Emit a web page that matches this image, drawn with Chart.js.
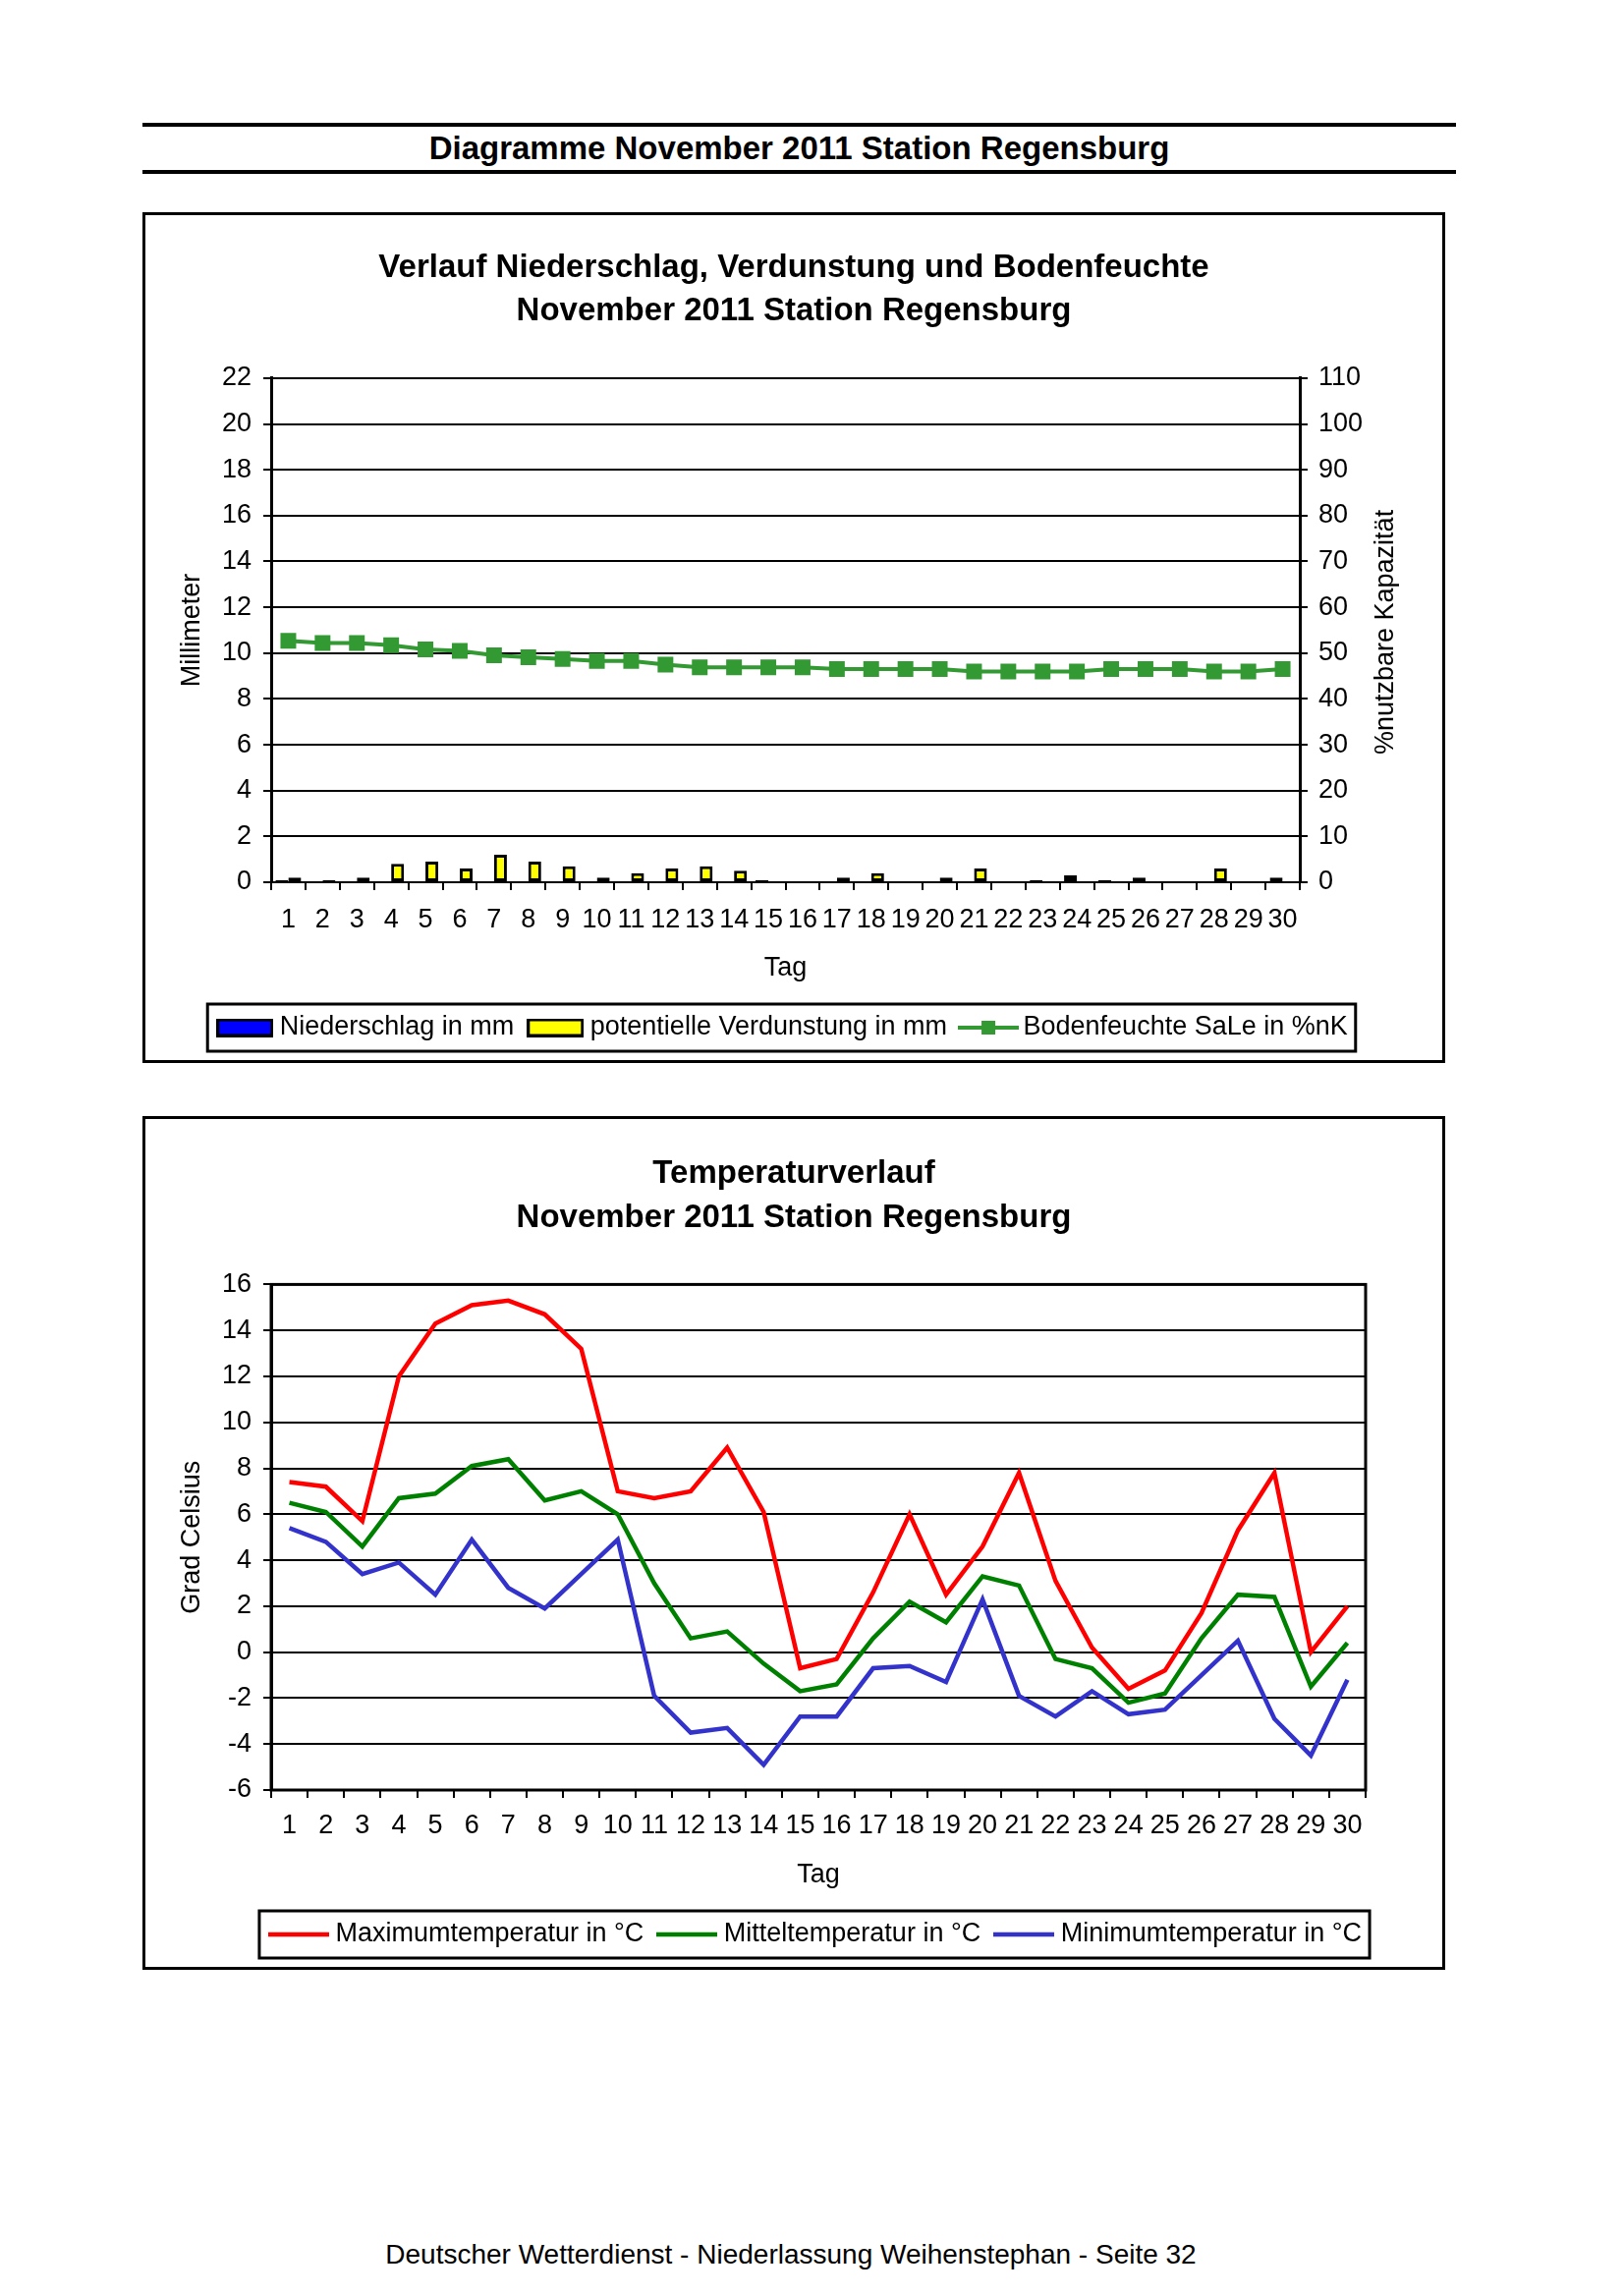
<!DOCTYPE html>
<html lang="de">
<head>
<meta charset="utf-8">
<title>Diagramme November 2011 Station Regensburg</title>
<script src="https://cdn.jsdelivr.net/npm/chart.js@4.4.1/dist/chart.umd.min.js"></script>
<style>
  html, body { margin: 0; padding: 0; background: #fff; }
  body { width: 1653px; height: 2337px; position: relative; font-family: "Liberation Sans", Arial, sans-serif; color: #000; }
  .rule { position: absolute; left: 145px; width: 1337px; height: 4px; background: #000; }
  #head { position: absolute; left: 145px; width: 1337px; top: 129px; height: 44px; line-height: 44px; text-align: center; font-weight: bold; font-size: 33px; }
  .box { position: absolute; left: 145px; width: 1320px; border: 3px solid #000; }
  .box canvas { display: block; }
  #foot { position: absolute; left: 145px; width: 1320px; top: 2279px; line-height: 32px; text-align: center; font-size: 28px; }
</style>
</head>
<body>
<div class="rule" style="top:125px"></div>
<div id="head">Diagramme November 2011 Station Regensburg</div>
<div class="rule" style="top:173px"></div>

<div class="box" style="top:216px;height:860px"><canvas id="wasser" width="1320" height="860"></canvas></div>
<div class="box" style="top:1136px;height:863px"><canvas id="temp" width="1320" height="863"></canvas></div>

<div id="foot">Deutscher Wetterdienst - Niederlassung Weihenstephan - Seite 32</div>

<script>
// Tage im November
const tage = ['1','2','3','4','5','6','7','8','9','10','11','12','13','14','15',
              '16','17','18','19','20','21','22','23','24','25','26','27','28','29','30'];

// oberes Diagramm (mm bzw. % nK)
const niederschlag = [0.1,0,0,0,0,0,0,0,0,0,0,0,0,0,0.1,0,0,0,0,0,0,0,0.1,0.3,0.1,0.2,0,0,0,0.2];
const verdunstung  = [0.2,0.1,0.2,0.8,0.9,0.6,1.2,0.9,0.7,0.2,0.4,0.6,0.7,0.5,0,0,0.2,0.4,0,0.2,0.6,0,0,0,0,0,0,0.6,0,0];
const bodenfeuchte = [52.7,52.2,52.2,51.7,50.8,50.5,49.5,49.1,48.7,48.3,48.3,47.5,46.9,46.9,46.9,
                      46.9,46.5,46.5,46.5,46.5,46.0,46.0,46.0,46.0,46.5,46.5,46.5,46.0,46.0,46.5];

// unteres Diagramm (Grad Celsius)
const maxTemp  = [7.4,7.2,5.7,12.0,14.3,15.1,15.3,14.7,13.2,7.0,6.7,7.0,8.9,6.1,-0.7,
                  -0.3,2.6,6.0,2.5,4.6,7.8,3.1,0.2,-1.6,-0.8,1.7,5.3,7.8,0.0,2.0];
const mitTemp  = [6.5,6.1,4.6,6.7,6.9,8.1,8.4,6.6,7.0,6.0,3.0,0.6,0.9,-0.5,-1.7,
                  -1.4,0.6,2.2,1.3,3.3,2.9,-0.3,-0.7,-2.2,-1.8,0.6,2.5,2.4,-1.5,0.4];
const minTemp  = [5.4,4.8,3.4,3.9,2.5,4.9,2.8,1.9,3.4,4.9,-1.9,-3.5,-3.3,-4.9,-2.8,
                  -2.8,-0.7,-0.6,-1.3,2.3,-1.9,-2.8,-1.7,-2.7,-2.5,-1.0,0.5,-2.9,-4.5,-1.2];

Chart.defaults.font.family = '"Liberation Sans", Arial, sans-serif';
Chart.defaults.font.size = 27;
Chart.defaults.color = '#000';

// kleine Legendensymbole
function swatch(w, h, draw) {
  const c = document.createElement('canvas');
  c.width = w; c.height = h;
  draw(c.getContext('2d'), w, h);
  return c;
}
const kasten = col => swatch(58, 19, (g, w, h) => {
  g.fillStyle = '#000'; g.fillRect(0, 0, w, h);
  g.fillStyle = col; g.fillRect(3, 3, w - 6, h - 6);
});
const linie = (col, lw, marker) => swatch(62, 16, (g, w, h) => {
  g.strokeStyle = col; g.lineWidth = lw;
  g.beginPath(); g.moveTo(0, h / 2); g.lineTo(w, h / 2); g.stroke();
  if (marker) { g.fillStyle = col; g.fillRect(w / 2 - 7, h / 2 - 7, 14, 14); }
});

function legendItems(chart) {
  return chart.data.datasets.map((ds, i) => ({
    text: ds.label, pointStyle: ds.swatch, datasetIndex: i,
    fillStyle: ds.borderColor, strokeStyle: ds.borderColor, lineWidth: 0, hidden: false
  }));
}

// Legende unter der Zeichenfläche mittig, mit Rahmen
const legendenRahmen = {
  id: 'legendenRahmen',
  beforeDraw(chart) {
    const lg = chart.legend, a = chart.chartArea;
    if (!lg) return;
    const w = lg.right - lg.left;
    const dx = (a.left + a.right) / 2 - w / 2 - lg.left;
    if (!dx) return;
    lg.left += dx;
    lg.right += dx;
    lg.legendHitBoxes.forEach(hb => { hb.left += dx; });
  },
  afterDraw(chart) {
    const lg = chart.legend;
    if (!lg || !lg.legendHitBoxes || !lg.legendHitBoxes.length) return;
    const sw = lg.options.labels.pointStyleWidth;
    let l = Infinity, r = -Infinity, mid = 0;
    lg.legendHitBoxes.forEach((hb, i) => {
      const img = lg.legendItems[i].pointStyle;
      l = Math.min(l, hb.left + sw / 2 - img.width / 2);
      r = Math.max(r, hb.left + hb.width);
      mid = hb.top + hb.height / 2;
    });
    const ctx = chart.ctx;
    ctx.save();
    ctx.strokeStyle = '#000'; ctx.lineWidth = 3;
    ctx.strokeRect(l - 9, mid - 24, r - l + 17, 48);
    ctx.restore();
  }
};

// rechte Achsenbeschriftung, von unten nach oben gelesen
const rechterTitel = {
  id: 'rechterTitel',
  afterDraw(chart) {
    const {ctx, chartArea: a} = chart;
    ctx.save();
    ctx.translate(a.right + 87.6, (a.top + a.bottom) / 2 + 2);
    ctx.rotate(-Math.PI / 2);
    ctx.font = '27px "Liberation Sans", Arial, sans-serif';
    ctx.fillStyle = '#000'; ctx.textAlign = 'center'; ctx.textBaseline = 'middle';
    ctx.fillText('%nutzbare Kapazität', 0, 0);
    ctx.restore();
  }
};

// Rahmen um die Zeichenfläche
const flaechenRahmen = {
  id: 'flaechenRahmen',
  afterDatasetsDraw(chart) {
    const {ctx, chartArea: a} = chart;
    ctx.save();
    ctx.strokeStyle = '#000'; ctx.lineWidth = 3;
    ctx.strokeRect(a.left, a.top, a.right - a.left, a.bottom - a.top);
    ctx.restore();
  }
};

const titelFont = { size: 33, weight: 'bold', lineHeight: 1.35 };
const gitter = { color: '#000', lineWidth: 2, tickLength: 8 };

new Chart(document.getElementById('wasser'), {
  type: 'bar',
  data: {
    labels: tage,
    datasets: [
      { label: 'Niederschlag in mm', data: niederschlag, yAxisID: 'y',
        backgroundColor: '#0000ff', borderColor: '#000', borderWidth: 3, borderSkipped: false,
        categoryPercentage: 0.75, barPercentage: 1.0, swatch: kasten('#0000ff') },
      { label: 'potentielle Verdunstung in mm', data: verdunstung, yAxisID: 'y',
        backgroundColor: '#ffff00', borderColor: '#000', borderWidth: 3, borderSkipped: false,
        categoryPercentage: 0.75, barPercentage: 1.0, swatch: kasten('#ffff00') },
      { type: 'line', label: 'Bodenfeuchte SaLe in %nK', data: bodenfeuchte, yAxisID: 'y1',
        borderColor: '#339933', backgroundColor: '#339933', borderWidth: 4,
        pointStyle: 'rect', pointRadius: 11.3, pointBorderWidth: 0, pointBackgroundColor: '#339933',
        swatch: linie('#339933', 4, true) }
    ]
  },
  options: {
    responsive: false, animation: false, devicePixelRatio: 1,
    layout: { padding: { bottom: 9.5 } },
    plugins: {
      tooltip: { enabled: false },
      title: {
        display: true, color: '#000', font: titelFont,
        text: ['Verlauf Niederschlag, Verdunstung und Bodenfeuchte', 'November 2011 Station Regensburg'],
        padding: { top: 31.5, bottom: 45.3 }
      },
      legend: {
        position: 'bottom',
        labels: { usePointStyle: true, pointStyleWidth: 44, boxHeight: 19, padding: 20,
                  color: '#000', generateLabels: legendItems }
      }
    },
    scales: {
      x: {
        grid: { ...gitter, offset: true, drawOnChartArea: false },
        border: { display: true, color: '#000', width: 2 },
        ticks: { autoSkip: false, maxRotation: 0, padding: 14 },
        title: { display: true, text: 'Tag', padding: { top: 0, bottom: 10.3 } },
        afterFit: s => { s.height = 114.5; }
      },
      y: {
        position: 'left', min: 0, max: 22,
        ticks: { stepSize: 2, padding: 12 },
        grid: gitter,
        border: { display: true, color: '#000', width: 3 },
        title: { display: true, text: 'Millimeter', padding: { top: 31, bottom: 0 } },
        afterFit: s => { s.width = 128; }
      },
      y1: {
        position: 'right', min: 0, max: 110,
        ticks: { stepSize: 10, padding: 11 },
        grid: { ...gitter, drawOnChartArea: false },
        border: { display: true, color: '#000', width: 3 },
        afterFit: s => { s.width = 145; }
      }
    }
  },
  plugins: [legendenRahmen, rechterTitel]
});

new Chart(document.getElementById('temp'), {
  type: 'line',
  data: {
    labels: tage,
    datasets: [
      { label: 'Maximumtemperatur in °C', data: maxTemp, borderColor: '#ff0000', backgroundColor: '#ff0000',
        borderWidth: 4.5, pointRadius: 0, tension: 0, swatch: linie('#ff0000', 4.5, false) },
      { label: 'Mitteltemperatur in °C', data: mitTemp, borderColor: '#008000', backgroundColor: '#008000',
        borderWidth: 4.5, pointRadius: 0, tension: 0, swatch: linie('#008000', 4.5, false) },
      { label: 'Minimumtemperatur in °C', data: minTemp, borderColor: '#3333cc', backgroundColor: '#3333cc',
        borderWidth: 4.5, pointRadius: 0, tension: 0, swatch: linie('#3333cc', 4.5, false) }
    ]
  },
  options: {
    responsive: false, animation: false, devicePixelRatio: 1,
    layout: { padding: { bottom: 9.5 } },
    plugins: {
      tooltip: { enabled: false },
      title: {
        display: true, color: '#000', font: titelFont,
        text: ['Temperaturverlauf', 'November 2011 Station Regensburg'],
        padding: { top: 34, bottom: 45.3 }
      },
      legend: {
        position: 'bottom',
        labels: { usePointStyle: true, pointStyleWidth: 48, boxHeight: 16, padding: 20,
                  color: '#000', generateLabels: legendItems }
      }
    },
    scales: {
      x: {
        offset: true,
        grid: { ...gitter, offset: true, drawOnChartArea: false },
        border: { display: true, color: '#000', width: 2 },
        ticks: { autoSkip: false, maxRotation: 0, padding: 12.8 },
        title: { display: true, text: 'Tag', padding: { top: 0, bottom: 10.7 } },
        afterFit: s => { s.height = 113.5; }
      },
      y: {
        position: 'left', min: -6, max: 16,
        ticks: { stepSize: 2, padding: 12 },
        grid: gitter,
        border: { display: true, color: '#000', width: 3 },
        title: { display: true, text: 'Grad Celsius', padding: { top: 31, bottom: 0 } },
        afterFit: s => { s.width = 128; }
      },
      rechts: {
        position: 'right', min: -6, max: 16,
        ticks: { display: false },
        grid: { display: false },
        border: { display: false },
        afterFit: s => { s.width = 78; }
      }
    }
  },
  plugins: [legendenRahmen, flaechenRahmen]
});
</script>
</body>
</html>
